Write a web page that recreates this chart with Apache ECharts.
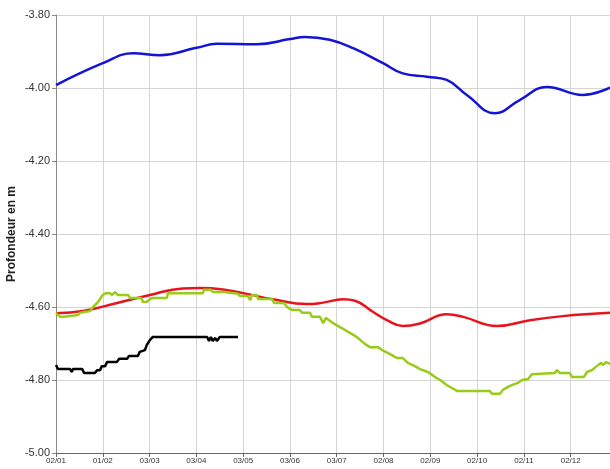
<!DOCTYPE html>
<html>
<head>
<meta charset="utf-8">
<script src="https://cdn.jsdelivr.net/npm/echarts@6/dist/echarts.min.js"></script>
<style>html,body{margin:0;padding:0;background:#fff}#c{width:610px;height:469px}</style>
</head>
<body>
<div id="c"></div>
<script>
// x = months from 02/01 (one tick per label)
const xLabels = ['02/01','01/02','03/03','03/04','03/05','03/06','03/07','02/08','02/09','02/10','02/11','02/12'];
const yTicks = [-5.0,-4.8,-4.6,-4.4,-4.2,-4.0,-3.8];

const blue = [[0,-3.992],[1.0,-3.932],[1.65,-3.905],[2.22,-3.910],[3.0,-3.890],[3.44,-3.879],[4.29,-3.880],[5.0,-3.866],[5.32,-3.860],[5.85,-3.868],[6.35,-3.891],[6.99,-3.932],[7.41,-3.960],[7.93,-3.969],[8.35,-3.978],[8.78,-4.019],[9.38,-4.069],[9.91,-4.033],[10.49,-3.997],[11.26,-4.019],[11.84,-3.999]];

const red = [[0,-4.617],[0.58,-4.611],[1.0,-4.599],[2.01,-4.567],[2.71,-4.549],[3.08,-4.548],[3.57,-4.552],[4.08,-4.564],[4.64,-4.579],[5.36,-4.592],[5.71,-4.588],[6.13,-4.579],[6.39,-4.583],[6.77,-4.613],[7.07,-4.636],[7.41,-4.652],[7.78,-4.645],[8.35,-4.620],[8.70,-4.627],[9.42,-4.652],[10.13,-4.636],[10.83,-4.625],[11.84,-4.616]];

const green = [[0,-4.616],[0.09,-4.627],[0.17,-4.627],[0.21,-4.622],[0.47,-4.622],[0.51,-4.616],[0.73,-4.611],[0.79,-4.600],[0.88,-4.589],[0.94,-4.578],[1.0,-4.567],[1.07,-4.562],[1.15,-4.562],[1.20,-4.567],[1.26,-4.559],[1.32,-4.567],[1.54,-4.567],[1.58,-4.575],[1.82,-4.575],[1.86,-4.586],[1.94,-4.586],[2.01,-4.578],[2.07,-4.575],[2.37,-4.575],[2.39,-4.562],[3.14,-4.562],[3.16,-4.553],[3.31,-4.553],[3.35,-4.559],[3.59,-4.559],[3.63,-4.564],[3.89,-4.564],[3.93,-4.570],[4.10,-4.570],[4.15,-4.581],[4.19,-4.567],[4.29,-4.567],[4.32,-4.578],[4.62,-4.578],[4.66,-4.589],[4.87,-4.589],[4.94,-4.600],[5.04,-4.608],[5.21,-4.608],[5.26,-4.616],[5.43,-4.616],[5.47,-4.627],[5.64,-4.627],[5.71,-4.644],[5.77,-4.630],[5.92,-4.644],[6.07,-4.655],[6.18,-4.663],[6.28,-4.671],[6.39,-4.679],[6.50,-4.690],[6.60,-4.701],[6.71,-4.710],[6.88,-4.710],[6.97,-4.718],[7.14,-4.729],[7.29,-4.740],[7.41,-4.740],[7.52,-4.753],[7.67,-4.762],[7.78,-4.770],[7.95,-4.778],[8.10,-4.792],[8.21,-4.800],[8.35,-4.814],[8.46,-4.822],[8.57,-4.830],[9.27,-4.830],[9.32,-4.838],[9.49,-4.838],[9.55,-4.827],[9.66,-4.819],[9.74,-4.814],[9.87,-4.808],[9.96,-4.800],[10.09,-4.797],[10.17,-4.784],[10.19,-4.781],[10.66,-4.781],[10.71,-4.773],[10.77,-4.781],[10.98,-4.781],[11.03,-4.792],[11.28,-4.792],[11.35,-4.778],[11.45,-4.773],[11.56,-4.762],[11.65,-4.753],[11.69,-4.759],[11.75,-4.751],[11.84,-4.756]];

const black = [[0,-4.759],[0.04,-4.770],[0.30,-4.770],[0.34,-4.778],[0.36,-4.770],[0.56,-4.770],[0.60,-4.781],[0.83,-4.781],[0.88,-4.773],[0.94,-4.773],[0.98,-4.762],[1.05,-4.762],[1.09,-4.751],[1.30,-4.751],[1.35,-4.742],[1.52,-4.742],[1.56,-4.734],[1.75,-4.734],[1.79,-4.723],[1.90,-4.718],[1.94,-4.704],[2.01,-4.690],[2.07,-4.682],[3.23,-4.682],[3.27,-4.693],[3.31,-4.682],[3.35,-4.693],[3.40,-4.685],[3.44,-4.693],[3.50,-4.682],[3.89,-4.682]];

const chart = echarts.init(document.getElementById('c'), null, {renderer:'canvas'});
const line = (data, color, smooth, w) => ({
  type:'line', data, smooth, symbol:'none', showSymbol:false,
  lineStyle:{color, width:w}, itemStyle:{color}, animation:false, clip:true
});
chart.setOption({
  animation:false,
  grid:{left:56, right:0, top:15, bottom:16, containLabel:false, outerBoundsMode:'none'},
  xAxis:{
    type:'value', min:0, max:11.84, interval:1,
    axisLine:{show:true, lineStyle:{color:'#666', width:1}},
    axisTick:{show:true, length:4, lineStyle:{color:'#666'}},
    axisLabel:{show:true, fontSize:8, color:'#333', margin:4,
      fontFamily:'"Liberation Sans Narrow", "Liberation Sans", Arial, sans-serif',
      showMaxLabel:false,
      formatter:(v)=>{const i=Math.round(v); return (Math.abs(v-i)<1e-6 && xLabels[i]) ? xLabels[i] : '';}},
    splitLine:{show:true, lineStyle:{color:'#d4d4d4', width:1}}
  },
  yAxis:{
    type:'value', min:yTicks[0], max:yTicks[yTicks.length-1], interval:0.2,
    name:'Profondeur en m', nameLocation:'middle', nameGap:38, nameRotate:90, nameMoveOverlap:false,
    nameTextStyle:{fontSize:12, fontWeight:'bold', color:'#222', fontFamily:'"Liberation Sans", Arial, sans-serif'},
    axisLine:{show:true, lineStyle:{color:'#888', width:1}},
    axisTick:{show:true, length:4, lineStyle:{color:'#888'}},
    axisLabel:{fontSize:11, color:'#333', margin:6, fontFamily:'"Liberation Sans", Arial, sans-serif',
      formatter:(v)=>v.toFixed(2)},
    splitLine:{show:true, lineStyle:{color:'#d4d4d4', width:1}}
  },
  series:[
    line(blue, '#1414d6', 0.45, 2.5),
    line(red, '#e8141c', 0.45, 2.5),
    line(green, '#99cc1a', false, 2.5),
    line(black, '#000000', false, 2.5)
  ]
});
</script>
</body>
</html>
